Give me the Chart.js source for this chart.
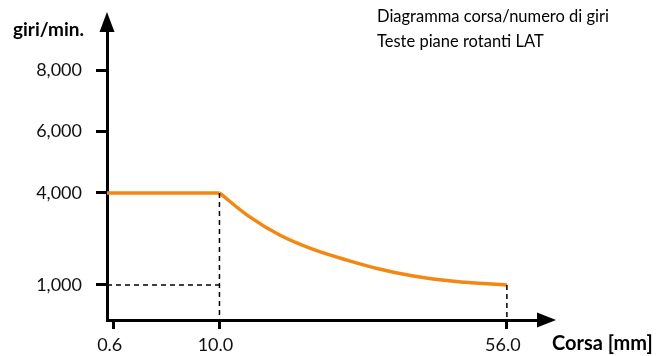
<!DOCTYPE html>
<html>
<head>
<meta charset="utf-8">
<script src="https://cdn.jsdelivr.net/npm/chart.js@4/dist/chart.umd.min.js"></script>
<style>
html, body { margin: 0; padding: 0; background: #fff; }
#wrap { width: 667px; height: 356px; }
</style>
</head>
<body>
<div id="wrap"><canvas id="chart" width="667" height="356"></canvas></div>
<script>
'use strict';

// values
const xTicks = [0.6, 10.0, 56.0];
const yTicks = [1000, 4000, 6000, 8000];
const flatStroke = [0, 10];
const flatRpm = [4000, 4000];
const curveStroke = [10, 14.6, 19.7, 25.0, 30.4, 35.4, 40.8, 47.5, 52.8, 56];
const curveRpm = [4000, 3250, 2620, 2160, 1810, 1530, 1300, 1120, 1040, 1000];
const titleLines = ['Diagramma corsa/numero di giri', 'Teste piane rotanti LAT'];
const yTitle = 'giri/min.';
const xTitle = 'Corsa [mm]';

const X_MIN = 0, X_MAX = 61.3;
const Y_MIN = -140, Y_MAX = 9370;
const FONT = 'Lato, "Open Sans", sans-serif';
const ORANGE = '#f4870f';

// the x axis of the original is not linear: the first 10 mm are stretched
const BEND = 10, STRETCH = 1.8;
const warp = v => v <= BEND ? v * STRETCH : BEND * STRETCH + (v - BEND);
const unwarp = w => w <= BEND * STRETCH ? w / STRETCH : BEND + (w - BEND * STRETCH);

class StrokeScale extends Chart.LinearScale {
    getPixelForValue(value) {
        if (value === null || value === undefined) return NaN;
        const a = warp(this.min), b = warp(this.max);
        return this.getPixelForDecimal((warp(value) - a) / (b - a));
    }
    getValueForPixel(pixel) {
        const a = warp(this.min), b = warp(this.max);
        return unwarp(a + this.getDecimalForPixel(pixel) * (b - a));
    }
}
StrokeScale.id = 'stroke';
StrokeScale.defaults = Chart.LinearScale.defaults;
Chart.register(StrokeScale);

const pts = (xs, ys) => xs.map((x, i) => ({x: x, y: ys[i]}));

const cornerX = flatStroke[flatStroke.length - 1];
const cornerY = flatRpm[flatRpm.length - 1];
const endX = curveStroke[curveStroke.length - 1];
const endY = curveRpm[curveRpm.length - 1];

const dashed = data => ({
    data: data,
    borderColor: '#000',
    borderWidth: 1.5,
    borderDash: [5, 4],
    pointRadius: 0,
    tension: 0
});

const decor = {
    id: 'decor',
    afterDraw(chart) {
        const ctx = chart.ctx;
        const a = chart.chartArea;
        ctx.save();
        ctx.fillStyle = '#000';
        // arrow heads
        ctx.beginPath();
        ctx.moveTo(a.left, 12);
        ctx.lineTo(a.left - 7.5, 32);
        ctx.lineTo(a.left + 7.5, 32);
        ctx.closePath();
        ctx.fill();
        ctx.beginPath();
        ctx.moveTo(556, a.bottom);
        ctx.lineTo(537, a.bottom - 7.5);
        ctx.lineTo(537, a.bottom + 7.5);
        ctx.closePath();
        ctx.fill();

        ctx.textBaseline = 'middle';
        ctx.textAlign = 'left';
        ctx.font = 'bold 19px ' + FONT;
        ctx.fillText(yTitle, 13, 30);
        ctx.font = 'bold 20px ' + FONT;
        ctx.fillText(xTitle, 552, 344);
        ctx.font = '16.5px ' + FONT;
        titleLines.forEach((t, i) => ctx.fillText(t, 377, 17 + i * 25));
        ctx.restore();
    }
};

const axisGrid = len => ({
    drawOnChartArea: false,
    drawTicks: true,
    tickLength: len,
    tickWidth: 3,
    tickColor: '#000'
});

new Chart(document.getElementById('chart'), {
    type: 'line',
    data: {
        datasets: [
            dashed([{x: X_MIN, y: endY}, {x: cornerX, y: endY}]),
            dashed([{x: cornerX, y: cornerY}, {x: cornerX, y: Y_MIN}]),
            dashed([{x: endX, y: endY}, {x: endX, y: Y_MIN}]),
            {
                data: pts(flatStroke, flatRpm),
                borderColor: ORANGE,
                borderWidth: 3.5,
                pointRadius: 0
            },
            {
                data: pts(curveStroke, curveRpm),
                borderColor: ORANGE,
                borderWidth: 3.5,
                pointRadius: 0,
                cubicInterpolationMode: 'monotone'
            }
        ]
    },
    options: {
        responsive: false,
        animation: false,
        layout: {padding: {top: 28, right: 127, bottom: 0, left: 0}},
        plugins: {legend: {display: false}, tooltip: {enabled: false}},
        scales: {
            x: {
                type: 'stroke',
                min: X_MIN,
                max: X_MAX,
                afterBuildTicks: s => { s.ticks = xTicks.map(v => ({value: v})); },
                afterFit: s => { s.height = 36; },
                ticks: {
                    callback: v => Number(v).toFixed(1),
                    font: {family: FONT, size: 18},
                    color: '#111',
                    padding: 5,
                    labelOffset: -4,
                    maxRotation: 0,
                    autoSkip: false
                },
                grid: axisGrid(9),
                border: {color: '#000', width: 3}
            },
            y: {
                type: 'linear',
                min: Y_MIN,
                max: Y_MAX,
                afterBuildTicks: s => { s.ticks = yTicks.map(v => ({value: v})); },
                afterFit: s => { s.width = 107; },
                ticks: {
                    callback: v => Number(v).toLocaleString('en-US'),
                    font: {family: FONT, size: 18},
                    color: '#111',
                    padding: 14
                },
                grid: axisGrid(11),
                border: {color: '#000', width: 3}
            }
        }
    },
    plugins: [decor]
});
</script>
</body>
</html>
